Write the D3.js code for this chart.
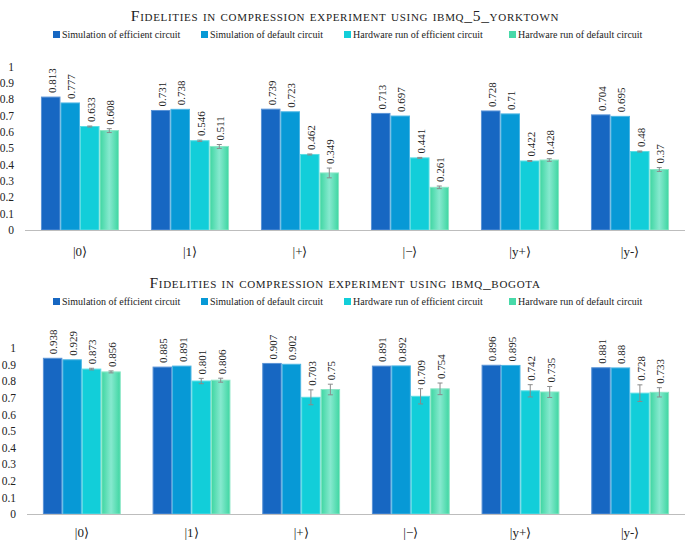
<!DOCTYPE html>
<html><head><meta charset="utf-8">
<script src="https://cdn.jsdelivr.net/npm/d3@7"></script>
<style>
html,body{margin:0;padding:0;background:#fff;}
svg{display:block;}
</style></head>
<body>
<svg id="chart" width="685" height="544"></svg>
<script>
// ---------- data ----------
const categories = ["|0\u27E9", "|1\u27E9", "|+\u27E9", "|\u2212\u27E9", "|y+\u27E9", "|y-\u27E9"];
const seriesNames = ["Simulation of efficient circuit", "Simulation of default circuit", "Hardware run of efficient circuit", "Hardware run of default circuit"];
const yTicks = [0, 0.1, 0.2, 0.3, 0.4, 0.5, 0.6, 0.7, 0.8, 0.9, 1];

const titleTop = "Fidelities in compression experiment using ibmq_5_yorktown";
const topSimEff = [0.813, 0.731, 0.739, 0.713, 0.728, 0.704];
const topSimDef = [0.777, 0.738, 0.723, 0.697, 0.71, 0.695];
const topHwEff = [0.633, 0.546, 0.462, 0.441, 0.422, 0.48];
const topHwDef = [0.608, 0.511, 0.349, 0.261, 0.428, 0.37];
const topHwEffErr = [0.003, 0.004, 0.003, 0.003, 0.003, 0.003];
const topHwDefErr = [0.012, 0.012, 0.03, 0.008, 0.008, 0.012];

const titleBottom = "Fidelities in compression experiment using ibmq_bogota";
const botSimEff = [0.938, 0.885, 0.907, 0.891, 0.896, 0.881];
const botSimDef = [0.929, 0.891, 0.902, 0.892, 0.895, 0.88];
const botHwEff = [0.873, 0.801, 0.703, 0.709, 0.742, 0.728];
const botHwDef = [0.856, 0.806, 0.75, 0.754, 0.735, 0.733];
const botHwEffErr = [0.005, 0.016, 0.045, 0.046, 0.037, 0.05];
const botHwDefErr = [0.006, 0.012, 0.032, 0.035, 0.033, 0.028];

// ---------- style / layout ----------
const FONT = '"Liberation Serif", "Times New Roman", serif';
const colors = ["#1767C2", "#0799D6", "#12CED9", "#48D9A9"];
const strokes = ["#5A93D6", "#4DB6E3", "#5ADDE4", "#8AE6C6"];
const svg = d3.select("#chart").attr("font-family", FONT);

const defs = svg.append("defs");
const grad = defs.append("linearGradient").attr("id", "greenGrad")
  .attr("x1", "0%").attr("x2", "100%").attr("y1", "0%").attr("y2", "0%");
grad.append("stop").attr("offset", "0%").attr("stop-color", "#3FD6A2");
grad.append("stop").attr("offset", "50%").attr("stop-color", "#86E9CF");
grad.append("stop").attr("offset", "100%").attr("stop-color", "#3FD6A2");
const fills = [colors[0], colors[1], colors[2], "url(#greenGrad)"];

const legendX = [53, 201, 344, 509];

function drawPanel(cfg) {
  const g = svg.append("g");
  const series = [cfg.simEff, cfg.simDef, cfg.hwEff, cfg.hwDef];
  const errs = [null, null, cfg.hwEffErr, cfg.hwDefErr];

  // title
  g.append("text")
    .attr("x", 345).attr("y", cfg.titleY)
    .attr("text-anchor", "middle")
    .style("font-family", FONT)
    .style("font-variant", "small-caps")
    .style("font-size", "15.5px")
    .style("letter-spacing", "0.7px")
    .attr("fill", "#222")
    .text(cfg.title);

  // legend
  const lg = g.selectAll(".leg").data(seriesNames).enter().append("g")
    .attr("transform", (d, i) => `translate(${legendX[i]},${cfg.legendY})`);
  lg.append("rect").attr("x", 0).attr("y", -7).attr("width", 7).attr("height", 7)
    .attr("fill", (d, i) => colors[i]);
  lg.append("text").attr("x", 9).attr("y", 0)
    .style("font-family", FONT).style("font-size", "10px").attr("fill", "#222").text(d => d);

  const x0 = d3.scaleBand().domain(categories).range([cfg.left, 685])
    .paddingInner(0.29).paddingOuter(0.145);
  const x1 = d3.scaleBand().domain(d3.range(4)).range([0, x0.bandwidth()]);
  const y = d3.scaleLinear().domain([0, 1]).range([cfg.base, cfg.top]);

  // y axis labels
  const yAxis = d3.axisLeft(y).tickValues(yTicks).tickSize(0).tickPadding(0)
    .tickFormat(d => d3.format("")(+d.toFixed(1)));
  const ya = g.append("g").attr("transform", `translate(${cfg.left - 11},0)`).call(yAxis)
    .attr("font-family", FONT);
  ya.select(".domain").remove();
  ya.selectAll("text").style("font-size", "11.5px").style("font-family", FONT).attr("fill", "#222");

  // bars
  const groups = g.selectAll(".grp").data(categories).enter().append("g")
    .attr("transform", d => `translate(${x0(d)},0)`);
  groups.each(function (cat, ci) {
    const gg = d3.select(this);
    series.forEach((s, si) => {
      const v = s[ci];
      gg.append("rect")
        .attr("x", x1(si) + 0.5).attr("width", x1.bandwidth() - 1)
        .attr("y", y(v)).attr("height", y(0) - y(v))
        .attr("fill", fills[si]).attr("stroke", strokes[si]).attr("stroke-width", 1);
    });
    series.forEach((s, si) => {
      const v = s[ci];
      const e = errs[si] ? errs[si][ci] : 0;
      const cx = x1(si) + x1.bandwidth() / 2;
      if (errs[si]) {
        const eg = gg.append("g").attr("stroke", "#8a8a8a").attr("stroke-width", 1);
        eg.append("line").attr("x1", cx).attr("x2", cx).attr("y1", y(v - e)).attr("y2", y(v + e));
        eg.append("line").attr("x1", cx - 2.5).attr("x2", cx + 2.5).attr("y1", y(v - e)).attr("y2", y(v - e));
        eg.append("line").attr("x1", cx - 2.5).attr("x2", cx + 2.5).attr("y1", y(v + e)).attr("y2", y(v + e));
      }
      const ly = y(v + e) - 4;
      gg.append("text")
        .attr("transform", `translate(${cx + 1},${ly}) rotate(-90)`)
        .attr("dy", "0.35em")
        .style("font-family", FONT)
        .style("font-size", "11px")
        .attr("fill", "#222")
        .text(String(v));
    });
  });

  // baseline
  g.append("line").attr("x1", cfg.left).attr("x2", 685)
    .attr("y1", y(0) + 0.5).attr("y2", y(0) + 0.5)
    .attr("stroke", "#bdbdbd").attr("stroke-width", 1);

  // x labels
  const xAxis = d3.axisBottom(x0).tickSize(0).tickPadding(0);
  const xa = g.append("g").attr("transform", `translate(0,${cfg.catY})`).call(xAxis)
    .attr("font-family", FONT);
  xa.select(".domain").remove();
  xa.selectAll("text").style("font-size", "13px").style("font-family", FONT)
    .attr("fill", "#222").attr("dy", "0");
}

drawPanel({
  title: titleTop, titleY: 21, legendY: 38,
  simEff: topSimEff, simDef: topSimDef, hwEff: topHwEff, hwDef: topHwDef,
  hwEffErr: topHwEffErr, hwDefErr: topHwDefErr,
  left: 25, base: 230, top: 66.5, catY: 256
});
drawPanel({
  title: titleBottom, titleY: 288, legendY: 305,
  simEff: botSimEff, simDef: botSimDef, hwEff: botHwEff, hwDef: botHwDef,
  hwEffErr: botHwEffErr, hwDefErr: botHwDefErr,
  left: 27, base: 514, top: 348, catY: 537
});
</script>
</body></html>
